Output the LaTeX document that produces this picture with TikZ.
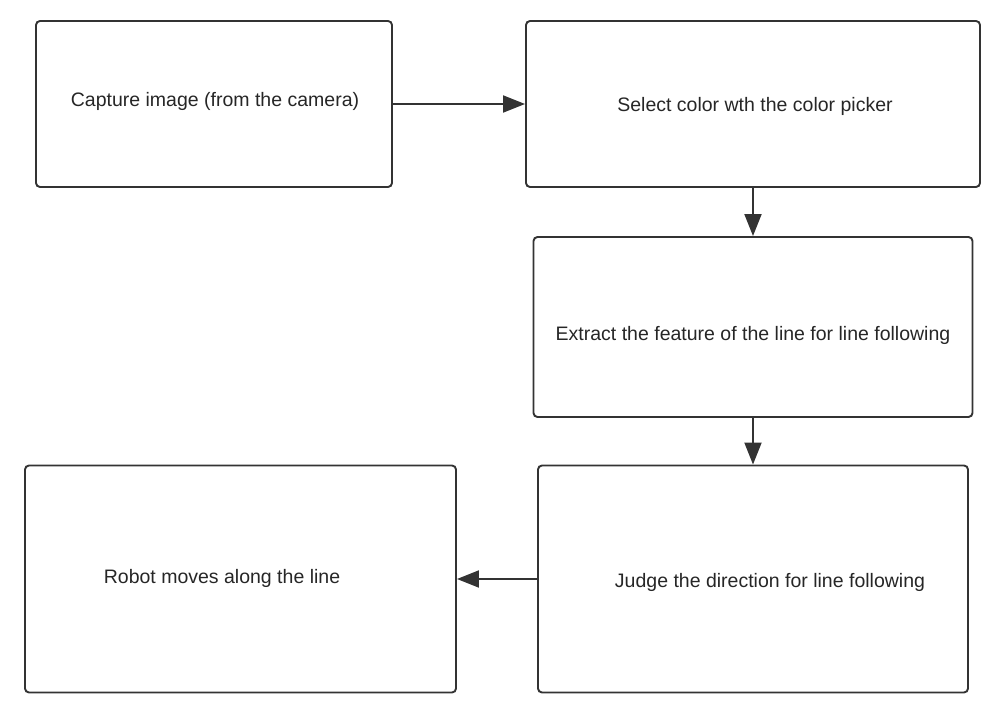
\documentclass[tikz,border=0pt]{standalone}
\usepackage{fontspec}
\setmainfont{Liberation Sans}
\usetikzlibrary{positioning, arrows.meta, calc}
\definecolor{edgegray}{HTML}{333333}
\tikzset{
  x=1pt, y=-1pt,
  box/.style={draw=edgegray, line width=1.9pt, rounded corners=4pt, inner sep=0pt},
  txt/.style={text=black!85, font=\fontsize{19.5}{23}\selectfont, inner sep=0pt},
  flow/.style={draw=edgegray, line width=1.9pt, -{Triangle[length=22pt, width=17pt]}},
}
\begin{document}
\begin{tikzpicture}
    \useasboundingbox (0,0) rectangle (1005,719);
    % boxes
    \node[box, minimum width=356pt, minimum height=166pt] (capture) at (214,104) {};
    \node[box, minimum width=454pt, minimum height=166pt] (select) at (753,104) {};
    \node[box, minimum width=439pt, minimum height=180pt] (extract) at (753,327) {};
    \node[box, minimum width=430pt, minimum height=227pt] (judge) at (753,579) {};
    \node[box, minimum width=431pt, minimum height=227pt] (robot) at (240.5,579) {};

    % texts
    \node[txt] (capturetext) at (215,101) {Capture image (from the camera)};
    \node[txt] (selecttext) at (755,106) {Select color wth the color picker};
    \node[txt] (extracttext) at (753,335) {Extract the feature of the line for line following};
    \node[txt] (judgetext) at (770,582) {Judge the direction for line following};
    \node[txt] (robottext) at (222,578) {Robot moves along the line};

    % arrows
    \draw[flow] (capture.east) -- (select.west);
    \draw[flow] (select.south) -- (extract.north);
    \draw[flow] (extract.south) -- (judge.north);
    \draw[flow] (judge.west) -- (robot.east);
\end{tikzpicture}
\end{document}
